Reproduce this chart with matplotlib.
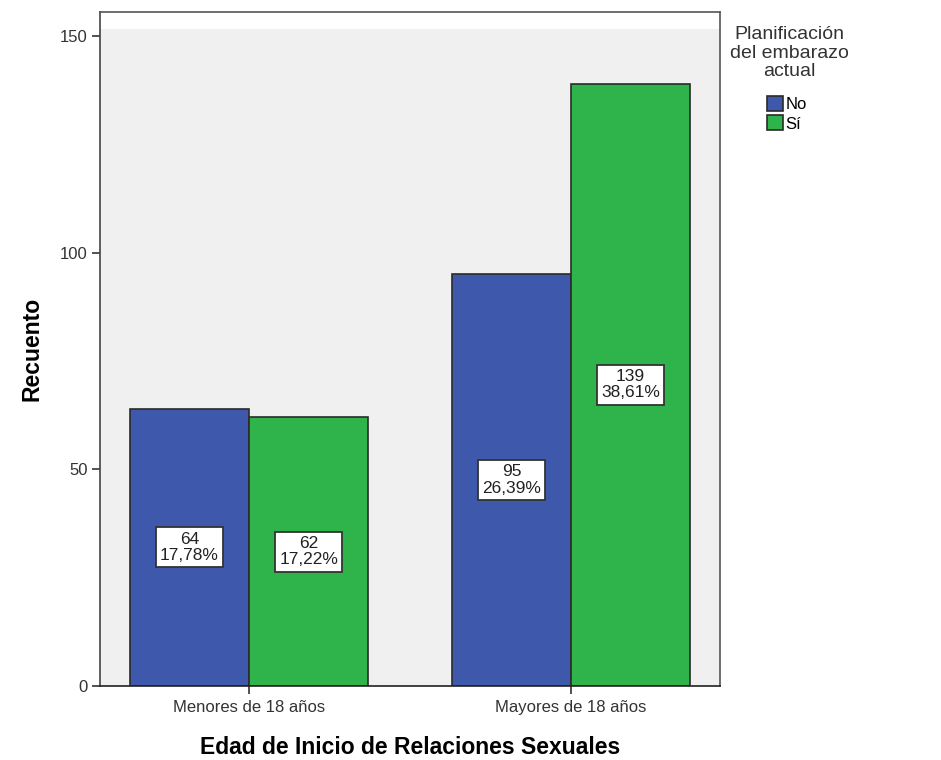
import matplotlib.pyplot as plt
import matplotlib.patches as mpatches
import numpy as np

plt.rcParams['font.family'] = ['Liberation Sans', 'DejaVu Sans']

# Data
categories = ['Menores de 18 años', 'Mayores de 18 años']
series = ['No', 'Sí']
counts_no = [64, 95]
counts_si = [62, 139]
pct_no = ['17,78%', '26,39%']
pct_si = ['17,22%', '38,61%']

colors = {'No': '#3e58ac', 'Sí': '#2eb44a'}
edge = '#2b2b2b'

fig = plt.figure(figsize=(9.41, 7.6), dpi=100)
ax = fig.add_axes([100/941, 74/760, 620/941, 674/760])

# light gray panel that stops a little below the top frame
ax.axhspan(0, 151.5, color='#f0f0f0', zorder=0, lw=0)

x = np.arange(len(categories))
w = 0.37

for vals, pcts, name, off in [(counts_no, pct_no, 'No', -w/2), (counts_si, pct_si, 'Sí', w/2)]:
    bars = ax.bar(x + off, vals, width=w, color=colors[name], edgecolor=edge,
                  linewidth=1.2, zorder=2, label=name)
    for b, v, p in zip(bars, vals, pcts):
        ax.text(b.get_x() + b.get_width()/2, v/2, f'{v}\n{p}', ha='center', va='center',
                fontsize=12.5, color='#222222', linespacing=1.12, zorder=3,
                bbox=dict(boxstyle='square,pad=0.25', fc='white', ec='#333333', lw=1.3))

ax.set_xlim(-0.4627, 1.4627)
ax.set_ylim(0, 155.5)
ax.set_yticks([0, 50, 100, 150])
ax.set_xticks(x)
ax.set_xticklabels(categories)
ax.tick_params(axis='both', labelsize=12, colors='#333333', length=6, width=1.2,
               direction='out', pad=3)
ax.tick_params(axis='x', colors='#333333', pad=4)

for s in ax.spines.values():
    s.set_color('#555555')
    s.set_linewidth(1.2)
ax.spines['bottom'].set_color('#222222')
ax.spines['left'].set_color('#444444')

ax.set_ylabel('Recuento', fontsize=16.5, fontweight='bold', labelpad=12)
ax.set_xlabel('Edad de Inicio de Relaciones Sexuales', fontsize=16.5, fontweight='bold',
              labelpad=15)

fig.text(789/941, 1 - 53/760, 'Planificación\ndel embarazo\nactual', ha='center',
         va='center', fontsize=14, color='#333333', linespacing=1.15)

handles = [mpatches.Patch(facecolor=colors[s], edgecolor=edge, lw=1.2) for s in series]
fig.legend(handles, series, loc='upper left', bbox_to_anchor=(767/941, 1 - 96/760),
           frameon=False, fontsize=12, handlelength=0.95, handleheight=1.0,
           handletextpad=0.15, labelspacing=0.2, borderpad=0, borderaxespad=0)

fig.savefig('out.png', dpi=100)
